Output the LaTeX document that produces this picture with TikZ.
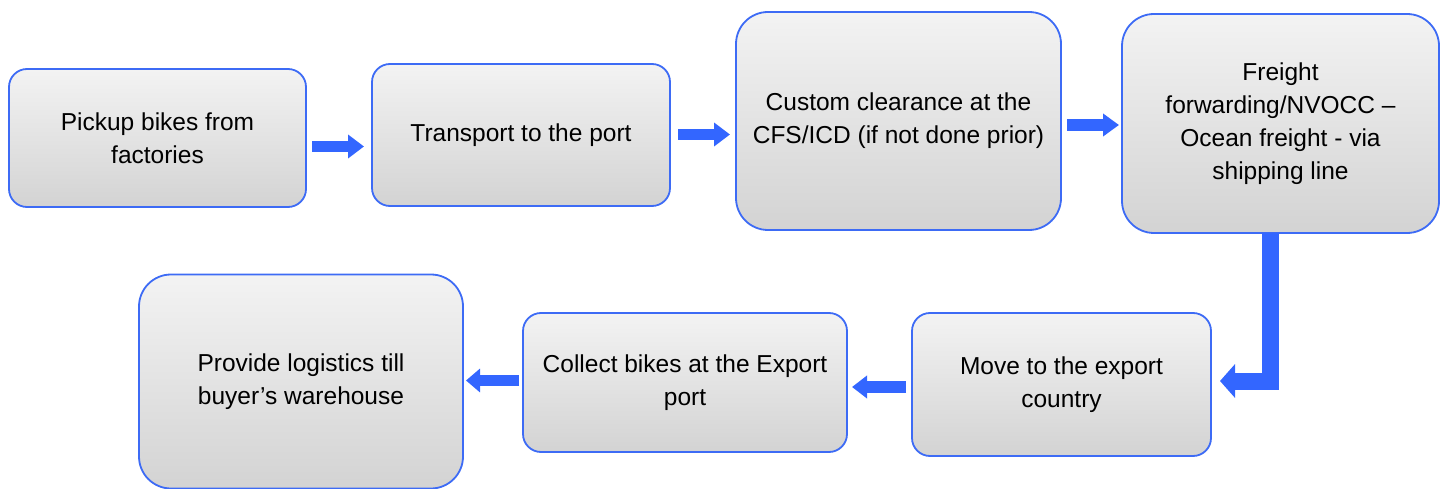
\documentclass[tikz,border=0pt]{standalone}
\usepackage{fontspec}
\setmainfont{Liberation Sans}
\usetikzlibrary{arrows.meta}
\definecolor{boxline}{RGB}{61,107,245}
\definecolor{arrowcol}{RGB}{51,102,255}
\definecolor{topgray}{RGB}{243,243,243}
\definecolor{botgray}{RGB}{211,211,211}
\begin{document}
\begin{tikzpicture}[x=1pt,y=-1pt,
  stepbox/.style={draw=boxline, line width=1.8pt, top color=topgray, bottom color=botgray,
    inner sep=0pt, outer sep=0pt, align=center, font=\fontsize{24.5}{33}\selectfont},
  smallbox/.style={stepbox, rounded corners=18pt},
  bigbox/.style={stepbox, rounded corners=32pt},
  bigarrow/.style={draw=arrowcol, line width=11pt, -{Triangle[width=23pt,length=16pt]}},
  elbowarrow/.style={draw=arrowcol, line width=17pt, line join=miter, -{Triangle[width=33pt,length=15pt]}}
]
\useasboundingbox (0,0) rectangle (1440,489);
\node[smallbox, minimum width=297pt, minimum height=138pt] (b1) at (157.5,138) {Pickup bikes from\\factories};
\node[smallbox, minimum width=298pt, minimum height=142pt] (b2) at (521,135) {Transport to the port};
\node[bigbox, minimum width=325pt, minimum height=218pt] (b3) at (898.5,121) {Custom clearance at the\\CFS/ICD (if not done prior)};
\node[bigbox, minimum width=317pt, minimum height=219pt] (b4) at (1280.5,123.5) {Freight\\forwarding/NVOCC --\\Ocean freight - via\\shipping line};
\node[smallbox, minimum width=299pt, minimum height=143pt] (b5) at (1061.5,384.5) {Move to the export\\country};
\node[smallbox, minimum width=324pt, minimum height=139pt] (b6) at (685,382.5) {Collect bikes at the Export\\port};
\node[bigbox, minimum width=324pt, minimum height=214pt] (b7) at (301,381.5) {Provide logistics till\\buyer’s warehouse};

\draw[bigarrow] ([shift={(6pt,-8.5pt)}]b1.east) -- ([shift={(-8pt,-11.5pt)}]b2.west);
\draw[bigarrow] ([shift={(8pt,0.5pt)}]b2.east) -- ([shift={(-6pt,-13.5pt)}]b3.west);
\draw[bigarrow, line width=12pt, -{Triangle[width=22pt,length=16pt]}] ([shift={(6pt,-4pt)}]b3.east) -- ([shift={(-3pt,-1.5pt)}]b4.west);
\draw[elbowarrow] ([xshift=-10.5pt]b4.south) |- ([shift={(9pt,3.5pt)}]b5.east);
\draw[bigarrow, line width=12pt, -{Triangle[width=22pt,length=15pt]}] ([shift={(-6pt,-2.5pt)}]b5.west) -- ([shift={(5pt,-4.5pt)}]b6.east);
\draw[bigarrow, -{Triangle[width=23pt,length=14pt]}] ([shift={(-4pt,2pt)}]b6.west) -- ([shift={(3pt,1pt)}]b7.east);
\end{tikzpicture}
\end{document}
